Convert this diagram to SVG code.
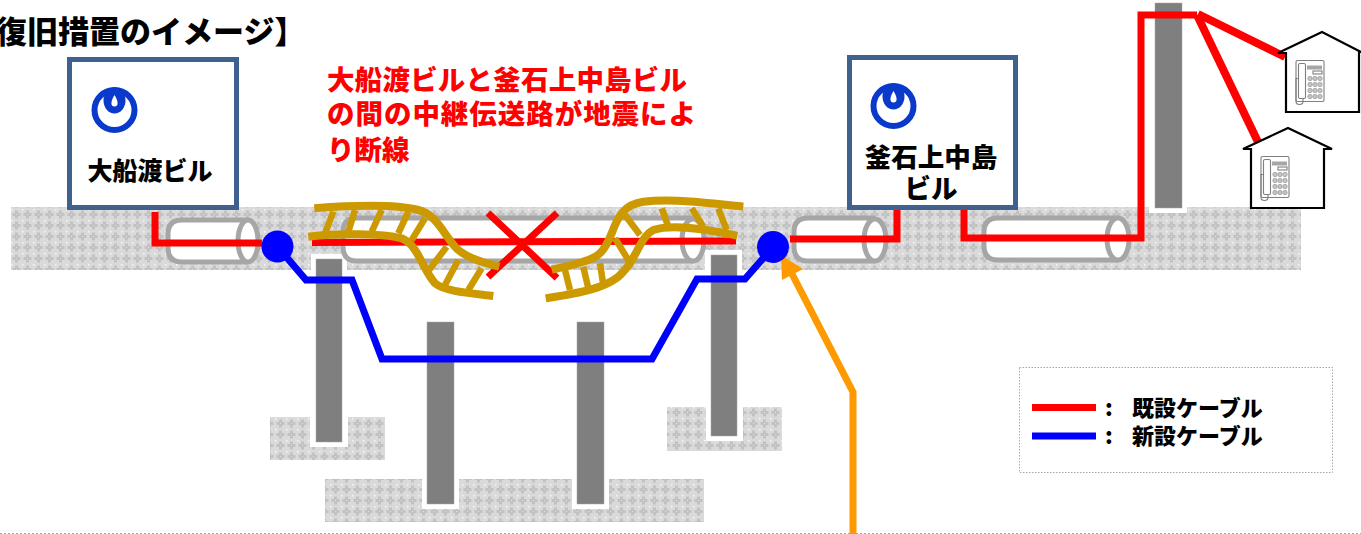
<svg xmlns="http://www.w3.org/2000/svg" xmlns:xlink="http://www.w3.org/1999/xlink" width="1361" height="534" viewBox="0 0 1361 534">
<style>
text{font-family:"Noto Sans CJK JP","Liberation Sans",sans-serif;font-weight:900}
.k{fill:#000}.r{fill:#f00}
.bld{fill:#fff;stroke:#3f6190;stroke-width:5}
.pipe{fill:#fff;stroke:#a6a6a6;stroke-width:5}
.red{fill:none;stroke:#f00;stroke-width:7}
.branch{fill:none;stroke:#f00;stroke-width:8}
.blue{fill:none;stroke:#00f;stroke-width:7}
.gold{fill:none;stroke:#c90;stroke-width:8}
.rung{fill:none;stroke:#c90;stroke-width:6.500}
.pile{fill:#7f7f7f;stroke:#a6a6a6;stroke-width:.5}
.halo{fill:#fff}
.soil{fill:url(#soil)}
.house{fill:#fff;stroke:#000;stroke-width:2.2}
.ph{fill:#fff;stroke:#7f7f7f;stroke-width:1.100}
</style>
<defs>
<pattern id="soil" width="11" height="11" patternUnits="userSpaceOnUse">
<rect width="11" height="11" fill="#dadada"/>
<path d="M4 1.500h3v2.500h2.500v3H7v2.500H4V7H1.500V4H4z" fill="#c2c2c2"/>
<rect x="5" y="5" width="1" height="1" fill="#dedede"/>
<rect x="0" y="0" width="1.500" height="1.500" fill="#f6f6f6"/>
</pattern>
<g id="logo">
<circle r="20" fill="none" stroke="#0a3acb" stroke-width="6"/>
<ellipse cx="0" cy="-9.500" rx="11" ry="13" fill="#0a3acb"/>
<path d="M0-15C-3.700-9-4.500-3.500 0-3.500S3.700-9 0-15z" fill="#fff"/>
</g>
<g id="phone">
<rect x="0" y="0" width="28" height="41" rx="1.500" class="ph"/>
<rect x="2.500" y="3" width="7" height="35" rx="1.500" class="ph"/>
<path d="M2.500 18H0V41Q0 44 3.500 44T7 41V38" class="ph" style="fill:none"/>
<rect x="11" y="5" width="15" height="4" fill="#a6a6a6"/>
<rect x="17" y="10.500" width="9" height="3" class="ph"/>
<g fill="#c4c4c4" stroke="#8c8c8c" stroke-width=".6">
<circle cx="14" cy="18" r="2.200"/><circle cx="19" cy="18" r="2.200"/><circle cx="24" cy="18" r="2.200"/>
<circle cx="14" cy="24" r="2.200"/><circle cx="19" cy="24" r="2.200"/><circle cx="24" cy="24" r="2.200"/>
<circle cx="14" cy="30" r="2.200"/><circle cx="19" cy="30" r="2.200"/><circle cx="24" cy="30" r="2.200"/>
<circle cx="14" cy="36" r="2.200"/><circle cx="19" cy="36" r="2.200"/><circle cx="24" cy="36" r="2.200"/>
</g>
</g>
</defs>

<g id="ground">
<rect class="soil" x="11" y="207" width="1290" height="63"/>
<rect class="soil" x="270" y="417" width="115" height="43"/>
<rect class="soil" x="325" y="479" width="379" height="43"/>
<rect class="soil" x="667" y="407" width="115" height="44"/>
</g>

<g id="poles">
<rect class="halo" x="311" y="254" width="36" height="16"/><rect class="halo" x="310" y="405" width="38" height="42"/>
<rect class="pile" x="316" y="259" width="26" height="183"/>
<rect class="halo" x="422" y="470" width="37" height="39"/>
<rect class="pile" x="427" y="322" width="27" height="182"/>
<rect class="halo" x="572" y="470" width="37" height="39"/>
<rect class="pile" x="577" y="322" width="27" height="182"/>
<rect class="halo" x="705" y="250" width="37" height="24"/><rect class="halo" x="706" y="400" width="37" height="41"/>
<rect class="pile" x="711" y="255" width="26" height="181"/>
<rect class="halo" x="1149" y="200" width="38" height="13"/>
<rect class="pile" x="1155" y="3" width="27" height="205"/>
</g>

<g id="pipes">
<path class="pipe" d="M248 220H182Q168 220 168 234V248Q168 262 182 262H248"/><ellipse class="pipe" cx="248" cy="241" rx="10" ry="21"/>
<path class="pipe" d="M693 218H357Q343 218 343 232V247Q343 261 357 261H693"/><ellipse class="pipe" cx="693" cy="240" rx="11" ry="21"/>
<path class="pipe" d="M875 218H808Q794 218 794 232V247Q794 261 808 261H875"/><ellipse class="pipe" cx="875" cy="240" rx="11" ry="21"/>
<path class="pipe" d="M1118 218H998Q984 218 984 232V246Q984 260 998 260H1118"/><ellipse class="pipe" cx="1118" cy="239" rx="11" ry="21"/>
</g>

<g id="connectors">
<path class="red" d="M155 212V243H262"/>
<path class="red" d="M312 242.500L736 241"/>
<path class="red" d="M897 210V239H790"/>
<path class="red" d="M964 208V238H1141V15H1197"/>
<path class="branch" d="M1198 14L1285 57"/>
<path class="branch" d="M1197 15L1258 142"/>
<path class="red" d="M488 213L557 278M557 213L488 277"/>
<path class="blue" d="M277 246L306 280H352L382 359H652L697 279H745L773 247"/>
<path fill="none" stroke="#f90" stroke-width="7" d="M853 534V392L791 272"/>
<path fill="#f90" d="M781 255L803 269L782 280z"/>
</g>

<g id="break-left">
<path class="gold" d="M314.300 208.300C345 206 391.700 203.300 418.300 210C438.300 215 445 238.300 458.300 250C468.300 258.300 485 263.300 499.300 266.700"/>
<path class="gold" d="M308.300 236.700C338.300 233.300 381.700 233.300 401.700 238.300C418.300 245 421.700 268.300 435 283.300C445 291.700 471.700 293.300 493.300 296"/>
<path class="rung" d="M333.300 211.700L325 233.300M355 210L348.300 231.700M381.700 210L371.700 231.700M408.300 211.700L398.300 233.300M425 218.300L411.700 240M446.700 246.700L429 270M458.300 260L445 285M481.700 268.300L468.300 290"/>
</g>
<g id="break-right">
<path class="gold" d="M743.300 206.700C713.300 203.300 673.300 198.300 643.300 201.700C625 204.300 618.300 215 611.700 233.300C605 250 600 256.700 583.300 261.700C573.300 265 560 267.700 551.700 269.700"/>
<path class="gold" d="M737.300 235.700C710 230 673.300 223.300 653.300 230C640 236.700 636.700 258.300 623.300 271.700C610 288.300 576.700 293.300 545.700 298.300"/>
<path class="rung" d="M661.700 208.300L668.300 226.700M691.700 208.300L703.300 226.700M718.300 208.300L726.700 230M625 215L640 235M615 238.300L628.300 260M600 263.300L603.300 285M583.300 266.700L588.300 288.300M565 270L570 290"/>
</g>

<g id="dots">
<circle cx="277.500" cy="246.500" r="16" fill="#00f"/>
<circle cx="773" cy="247" r="16" fill="#00f"/>
</g>

<g id="building-ofunato">
<rect class="bld" x="69.500" y="59.500" width="167" height="148"/>
<use xlink:href="#logo" href="#logo" x="114.500" y="110"/>
<text class="k" x="150" y="180" font-size="25" text-anchor="middle">大船渡ビル</text>
</g>
<g id="building-kamaishi">
<rect class="bld" x="849.500" y="57.500" width="166" height="150"/>
<use xlink:href="#logo" href="#logo" x="893.500" y="106"/>
<text class="k" x="931" y="167" font-size="26.500" text-anchor="middle">釜石上中島</text>
<text class="k" x="931" y="198" font-size="26.500" text-anchor="middle">ビル</text>
</g>

<g id="house-1">
<path class="house" d="M1286 112V53H1278L1322 32L1361 52H1359V112z"/>
<use xlink:href="#phone" href="#phone" x="1296" y="60.500"/>
</g>
<g id="house-2">
<path class="house" d="M1251 208V149H1243L1288 128L1332 149H1324V208z"/>
<use xlink:href="#phone" href="#phone" x="1261" y="156.500"/>
</g>

<text class="k" x="-4" y="43" font-size="31">復旧措置のイメージ】</text>

<g id="callout">
<text class="r" x="327" y="90" font-size="27.500" textLength="360" lengthAdjust="spacing">大船渡ビルと釜石上中島ビル</text>
<text class="r" x="327" y="124" font-size="27.500" textLength="369" lengthAdjust="spacing">の間の中継伝送路が地震によ</text>
<text class="r" x="327" y="160" font-size="27.500">り断線</text>
</g>

<g id="legend">
<rect x="1019.500" y="367.500" width="313" height="105" fill="#fff" stroke="#a6a6a6" stroke-dasharray="1.500 1.500"/>
<path class="red" d="M1032 407.500H1096"/>
<path class="blue" d="M1032 436H1096"/>
<text class="k" x="1105" y="416" font-size="22">:</text>
<text class="k" x="1132" y="416" font-size="22">既設ケーブル</text>
<text class="k" x="1105" y="444" font-size="22">:</text>
<text class="k" x="1132" y="444" font-size="22">新設ケーブル</text>
</g>

<path id="divider" d="M0 533.500H1361" stroke="#a6a6a6" stroke-dasharray="2 2"/>
</svg>
